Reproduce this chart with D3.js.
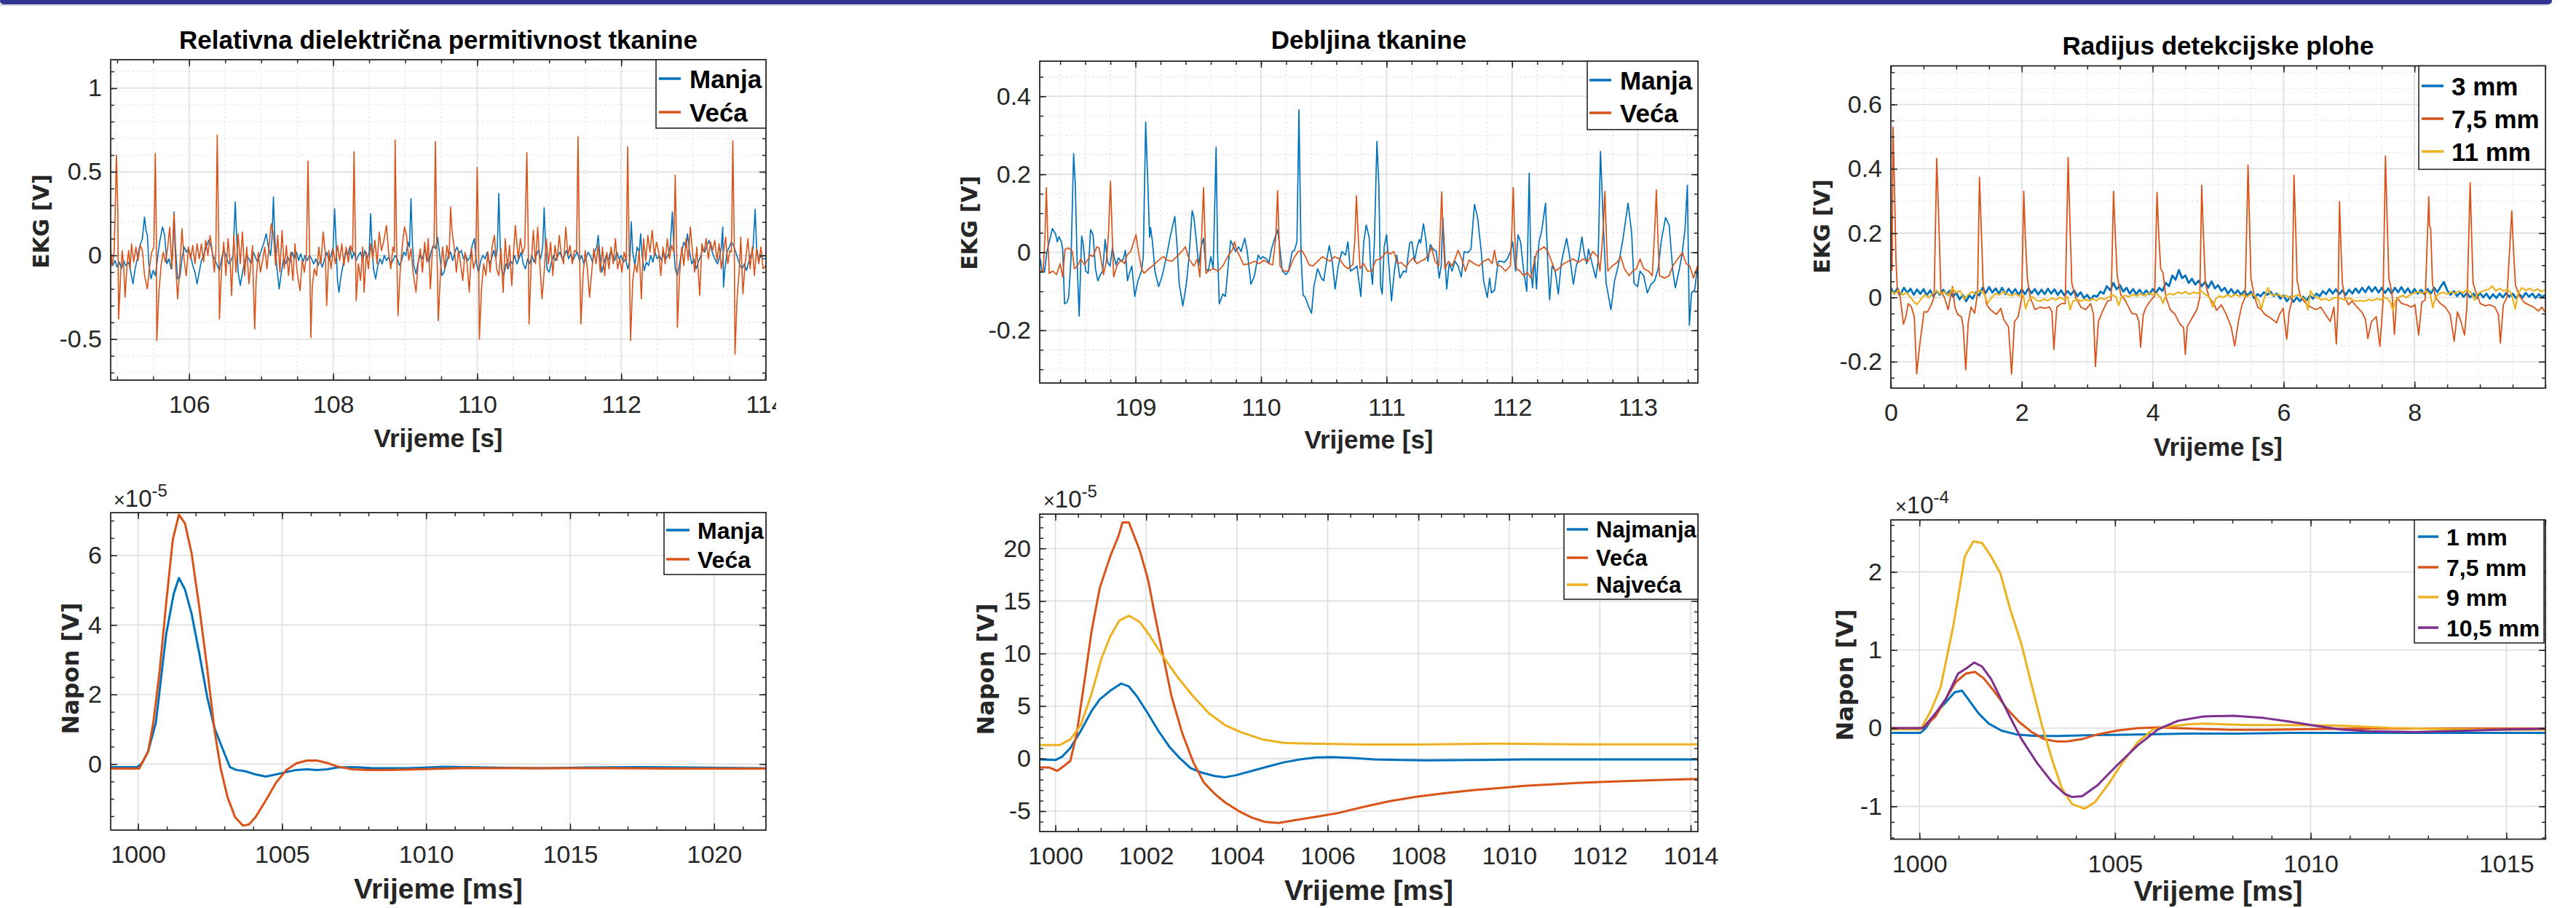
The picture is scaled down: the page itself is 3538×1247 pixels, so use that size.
<!DOCTYPE html>
<html>
<head>
<meta charset="utf-8">
<script src="https://cdn.jsdelivr.net/npm/d3@7"></script>
<style>
  body { margin: 0; background: #fff; }
  svg { display: block; }
</style>
</head>
<body>
<svg></svg>
<script>
// ---------- data ----------
// Relativna dielektricna permitivnost tkanine, EKG [V]
const permEkgManja = [[104.91,-0.02],[104.94,-0.06],[104.97,-0.03],[105.00,-0.07],[105.03,-0.04],[105.06,-0.08],[105.09,-0.03],[105.12,-0.06],[105.16,-0.04],[105.19,-0.10],[105.22,-0.17],[105.25,-0.08],[105.28,-0.02],[105.31,0.05],[105.35,0.10],[105.38,0.23],[105.40,0.15],[105.42,0.12],[105.44,-0.05],[105.47,-0.14],[105.50,-0.09],[105.53,-0.12],[105.56,-0.02],[105.59,0.08],[105.63,0.17],[105.66,0.12],[105.69,-0.05],[105.72,-0.02],[105.75,-0.08],[105.77,0.00],[105.79,0.26],[105.81,0.05],[105.84,-0.14],[105.87,-0.13],[105.90,-0.02],[105.93,0.05],[105.96,0.02],[105.99,0.04],[106.02,0.00],[106.05,-0.06],[106.08,-0.10],[106.11,-0.17],[106.14,-0.10],[106.17,-0.03],[106.20,0.00],[106.23,0.04],[106.27,0.09],[106.30,0.06],[106.33,0.00],[106.36,-0.03],[106.39,-0.06],[106.42,-0.09],[106.45,-0.02],[106.48,0.03],[106.51,0.00],[106.55,-0.05],[106.58,-0.03],[106.61,0.00],[106.64,0.32],[106.66,0.10],[106.68,-0.10],[106.71,-0.18],[106.74,-0.10],[106.77,-0.04],[106.80,0.00],[106.83,-0.02],[106.86,-0.05],[106.89,0.02],[106.92,-0.01],[106.95,-0.04],[106.98,0.00],[107.01,0.04],[107.04,0.08],[107.07,0.13],[107.10,0.05],[107.13,0.00],[107.15,0.10],[107.17,0.35],[107.19,0.10],[107.22,-0.08],[107.25,-0.20],[107.28,-0.10],[107.31,-0.02],[107.34,-0.05],[107.37,-0.01],[107.40,-0.04],[107.43,0.02],[107.46,-0.02],[107.49,0.02],[107.52,-0.03],[107.55,0.01],[107.58,-0.04],[107.61,0.00],[107.64,-0.03],[107.67,0.00],[107.70,-0.02],[107.73,-0.05],[107.76,-0.02],[107.79,-0.06],[107.82,-0.03],[107.85,-0.07],[107.88,-0.02],[107.91,0.02],[107.94,-0.03],[107.97,0.00],[108.00,0.05],[108.02,0.28],[108.04,0.08],[108.06,-0.15],[108.08,-0.22],[108.11,-0.12],[108.14,-0.05],[108.17,0.02],[108.20,0.00],[108.23,0.05],[108.26,-0.02],[108.29,0.02],[108.32,-0.03],[108.35,0.00],[108.38,0.02],[108.41,-0.03],[108.44,0.03],[108.47,-0.02],[108.50,0.02],[108.52,0.25],[108.54,0.05],[108.56,-0.08],[108.59,-0.14],[108.62,-0.06],[108.65,-0.02],[108.68,-0.05],[108.71,0.00],[108.74,-0.03],[108.77,-0.01],[108.80,-0.05],[108.83,-0.03],[108.86,0.00],[108.89,-0.02],[108.92,-0.06],[108.95,-0.03],[108.98,0.02],[109.01,0.00],[109.04,0.08],[109.06,0.05],[109.08,0.34],[109.10,0.08],[109.12,-0.06],[109.15,-0.11],[109.18,-0.04],[109.21,0.00],[109.24,-0.02],[109.27,0.03],[109.30,0.00],[109.33,-0.04],[109.36,0.02],[109.39,0.06],[109.42,0.04],[109.45,0.11],[109.48,0.00],[109.51,-0.12],[109.54,-0.10],[109.57,-0.05],[109.60,0.00],[109.63,0.02],[109.66,-0.03],[109.69,0.02],[109.72,0.05],[109.75,0.01],[109.78,0.03],[109.81,-0.02],[109.84,0.00],[109.87,-0.03],[109.90,-0.01],[109.93,0.06],[109.96,0.10],[109.99,-0.05],[110.02,-0.10],[110.05,-0.03],[110.08,0.00],[110.11,-0.02],[110.14,0.02],[110.17,-0.05],[110.20,-0.02],[110.23,0.03],[110.26,-0.02],[110.28,0.05],[110.30,0.37],[110.32,0.05],[110.34,-0.09],[110.37,-0.12],[110.40,-0.05],[110.43,-0.08],[110.46,-0.03],[110.49,-0.05],[110.52,0.00],[110.55,-0.05],[110.58,-0.02],[110.61,0.02],[110.64,-0.05],[110.67,-0.08],[110.70,-0.02],[110.73,-0.05],[110.76,0.00],[110.79,-0.04],[110.82,0.00],[110.85,0.03],[110.88,-0.02],[110.91,0.05],[110.93,0.285],[110.95,0.05],[110.97,-0.08],[111.00,-0.10],[111.03,-0.04],[111.06,0.00],[111.09,-0.03],[111.12,0.00],[111.15,0.02],[111.18,-0.02],[111.21,0.00],[111.24,0.03],[111.27,-0.02],[111.30,0.01],[111.33,-0.03],[111.36,0.00],[111.39,0.02],[111.42,-0.03],[111.45,0.00],[111.48,-0.05],[111.51,-0.02],[111.54,0.02],[111.57,0.00],[111.60,-0.04],[111.63,0.02],[111.66,0.05],[111.68,0.12],[111.70,0.02],[111.73,-0.10],[111.76,-0.05],[111.79,0.00],[111.82,-0.03],[111.85,0.02],[111.88,0.00],[111.91,-0.03],[111.94,0.02],[111.97,-0.02],[112.00,0.00],[112.03,-0.04],[112.06,-0.02],[112.09,-0.08],[112.12,-0.03],[112.14,0.20],[112.16,0.02],[112.19,-0.06],[112.22,0.05],[112.25,0.02],[112.27,0.13],[112.29,0.00],[112.32,-0.09],[112.35,-0.04],[112.38,-0.06],[112.41,0.00],[112.44,-0.04],[112.47,0.02],[112.50,-0.02],[112.53,0.00],[112.56,-0.03],[112.59,0.02],[112.62,-0.02],[112.65,0.00],[112.68,0.05],[112.71,0.26],[112.73,0.05],[112.75,-0.08],[112.78,-0.12],[112.81,-0.05],[112.84,0.02],[112.87,0.08],[112.90,0.05],[112.92,0.13],[112.95,0.02],[112.98,-0.05],[113.01,-0.02],[113.04,-0.08],[113.07,-0.04],[113.10,-0.01],[113.13,0.04],[113.16,0.02],[113.19,0.06],[113.22,0.09],[113.25,0.04],[113.28,0.00],[113.31,-0.03],[113.34,-0.05],[113.37,0.00],[113.39,0.05],[113.41,0.17],[113.42,-0.19],[113.44,-0.08],[113.47,0.02],[113.50,0.05],[113.53,0.08],[113.56,0.06],[113.59,0.02],[113.62,-0.02],[113.65,-0.06],[113.68,-0.08],[113.71,-0.05],[113.74,-0.09],[113.77,-0.04],[113.80,0.00],[113.83,0.04],[113.86,0.275],[113.88,0.05],[113.91,-0.03],[113.94,0.00],[113.97,-0.02],[114.01,-0.02]];
const permEkgVeca = [[104.91,0.05],[104.93,-0.06],[104.96,0.03],[104.99,0.60],[105.01,0.25],[105.02,-0.38],[105.05,-0.10],[105.07,0.03],[105.09,-0.06],[105.11,-0.25],[105.14,-0.04],[105.16,0.03],[105.18,-0.08],[105.20,0.07],[105.23,-0.04],[105.26,0.05],[105.29,-0.03],[105.32,0.06],[105.35,0.03],[105.38,-0.12],[105.42,-0.20],[105.45,-0.07],[105.48,0.02],[105.51,0.05],[105.53,0.61],[105.545,0.10],[105.55,-0.51],[105.58,-0.22],[105.61,-0.06],[105.64,0.02],[105.67,-0.04],[105.70,0.04],[105.73,0.17],[105.76,-0.08],[105.79,0.25],[105.81,-0.04],[105.84,-0.26],[105.87,-0.08],[105.90,0.16],[105.93,-0.03],[105.96,-0.12],[105.99,0.05],[106.02,-0.02],[106.05,0.06],[106.08,-0.05],[106.11,0.07],[106.14,-0.02],[106.17,0.07],[106.20,-0.04],[106.23,0.09],[106.26,0.00],[106.29,0.12],[106.32,0.03],[106.35,-0.10],[106.37,0.02],[106.39,0.72],[106.41,0.10],[106.42,-0.38],[106.45,-0.08],[106.48,0.08],[106.51,-0.12],[106.54,0.10],[106.57,-0.05],[106.59,-0.24],[106.62,0.12],[106.65,-0.10],[106.68,0.13],[106.71,-0.05],[106.74,0.14],[106.77,-0.12],[106.80,0.05],[106.83,-0.17],[106.86,-0.04],[106.88,0.06],[106.89,-0.15],[106.91,-0.44],[106.93,-0.15],[106.96,0.02],[106.99,-0.10],[107.02,-0.03],[107.05,0.05],[107.08,-0.08],[107.11,0.06],[107.14,0.19],[107.17,0.13],[107.20,-0.06],[107.23,0.12],[107.26,-0.10],[107.29,0.15],[107.32,-0.08],[107.35,0.06],[107.38,-0.12],[107.41,0.02],[107.44,-0.15],[107.47,0.07],[107.50,-0.10],[107.54,-0.21],[107.57,-0.03],[107.60,-0.10],[107.63,0.02],[107.65,0.565],[107.67,0.10],[107.69,-0.49],[107.71,-0.18],[107.74,-0.08],[107.77,-0.12],[107.80,0.05],[107.83,-0.05],[107.86,0.14],[107.89,0.02],[107.91,-0.30],[107.94,0.03],[107.97,-0.08],[108.00,0.04],[108.03,-0.05],[108.06,0.06],[108.09,-0.03],[108.12,0.07],[108.15,-0.06],[108.18,0.05],[108.21,-0.04],[108.24,0.06],[108.27,0.02],[108.29,0.62],[108.31,0.05],[108.32,-0.27],[108.35,-0.05],[108.38,-0.15],[108.41,0.05],[108.43,-0.22],[108.46,0.02],[108.49,-0.08],[108.52,0.07],[108.55,-0.02],[108.58,0.09],[108.61,-0.05],[108.64,0.14],[108.67,0.03],[108.70,0.08],[108.74,0.18],[108.77,0.02],[108.80,-0.08],[108.83,0.05],[108.85,0.02],[108.86,0.69],[108.88,0.10],[108.90,-0.36],[108.93,-0.10],[108.96,0.06],[108.99,0.17],[109.02,0.12],[109.05,-0.03],[109.08,0.04],[109.11,-0.10],[109.15,-0.22],[109.18,-0.05],[109.21,0.04],[109.24,-0.10],[109.27,0.08],[109.30,-0.04],[109.32,0.10],[109.35,-0.20],[109.38,0.05],[109.40,0.05],[109.42,0.68],[109.44,0.05],[109.46,-0.39],[109.49,-0.10],[109.52,0.05],[109.55,-0.08],[109.58,0.06],[109.61,-0.02],[109.63,0.29],[109.65,0.15],[109.68,0.05],[109.71,-0.10],[109.74,0.03],[109.77,-0.05],[109.80,-0.15],[109.83,0.02],[109.86,-0.05],[109.89,-0.22],[109.92,0.04],[109.95,-0.08],[109.98,-0.02],[110.00,0.526],[110.02,0.05],[110.03,-0.50],[110.06,-0.20],[110.09,-0.05],[110.12,-0.12],[110.15,0.02],[110.18,-0.10],[110.21,0.06],[110.24,0.12],[110.27,-0.08],[110.30,-0.12],[110.33,0.04],[110.36,-0.22],[110.39,0.10],[110.42,-0.08],[110.45,0.06],[110.48,-0.18],[110.51,0.05],[110.53,0.18],[110.57,-0.02],[110.60,0.10],[110.63,0.01],[110.66,0.05],[110.69,0.616],[110.71,0.05],[110.72,-0.41],[110.75,-0.05],[110.78,0.15],[110.81,-0.05],[110.84,0.17],[110.87,-0.05],[110.90,-0.26],[110.93,-0.10],[110.96,0.10],[110.99,-0.05],[111.02,0.08],[111.05,-0.12],[111.08,0.06],[111.11,-0.03],[111.14,0.12],[111.17,0.00],[111.20,-0.05],[111.23,0.17],[111.26,0.00],[111.29,0.06],[111.32,-0.05],[111.35,0.03],[111.38,0.02],[111.40,0.71],[111.42,0.05],[111.44,-0.41],[111.47,-0.12],[111.50,0.03],[111.53,-0.08],[111.56,-0.25],[111.59,-0.10],[111.62,0.04],[111.65,-0.05],[111.68,0.06],[111.71,-0.10],[111.74,0.05],[111.77,-0.12],[111.80,0.02],[111.83,-0.08],[111.86,0.05],[111.89,-0.05],[111.92,0.10],[111.95,-0.08],[111.98,-0.02],[112.01,-0.10],[112.04,0.02],[112.07,-0.03],[112.09,0.65],[112.11,0.05],[112.13,-0.51],[112.16,-0.15],[112.19,-0.05],[112.22,-0.10],[112.25,0.03],[112.28,-0.26],[112.31,0.10],[112.34,-0.03],[112.37,0.12],[112.40,0.02],[112.43,0.15],[112.46,0.00],[112.49,0.08],[112.52,0.02],[112.55,-0.12],[112.58,0.05],[112.61,-0.05],[112.64,0.10],[112.67,-0.02],[112.70,0.06],[112.73,0.02],[112.75,0.48],[112.77,0.03],[112.78,-0.43],[112.81,-0.12],[112.84,0.05],[112.87,-0.06],[112.90,0.10],[112.93,-0.03],[112.96,0.17],[112.99,0.02],[113.02,-0.10],[113.05,0.05],[113.09,-0.24],[113.12,0.07],[113.15,0.02],[113.18,0.10],[113.21,-0.02],[113.24,0.08],[113.27,0.03],[113.30,0.09],[113.33,-0.03],[113.36,0.07],[113.39,-0.08],[113.42,0.02],[113.45,0.11],[113.48,-0.05],[113.51,0.03],[113.53,0.02],[113.55,0.685],[113.57,0.05],[113.58,-0.59],[113.61,-0.25],[113.64,-0.08],[113.66,0.11],[113.69,-0.23],[113.72,-0.05],[113.76,0.10],[113.79,-0.08],[113.82,0.05],[113.85,-0.12],[113.88,0.04],[113.91,-0.05],[113.94,0.05],[113.97,-0.08],[114.01,-0.06]];

// Debljina tkanine, EKG [V]
const debEkgManja = [[108.242,-0.017],[108.255,-0.048],[108.275,-0.051],[108.294,0.002],[108.313,0.027],[108.338,0.061],[108.362,0.048],[108.377,0.027],[108.391,0.040],[108.410,0.027],[108.420,0.008],[108.435,-0.132],[108.455,-0.128],[108.468,-0.113],[108.487,-0.011],[108.507,0.253],[108.520,0.176],[108.536,-0.035],[108.551,-0.163],[108.571,0.042],[108.584,0.020],[108.603,-0.048],[108.623,-0.054],[108.642,0.058],[108.662,0.045],[108.681,-0.042],[108.700,-0.073],[108.720,-0.057],[108.739,-0.048],[108.758,0.033],[108.778,-0.026],[108.797,-0.035],[108.816,0.011],[108.830,-0.011],[108.845,-0.032],[108.865,-0.014],[108.884,-0.023],[108.903,-0.017],[108.919,0.005],[108.936,-0.073],[108.957,-0.048],[108.971,-0.035],[108.994,-0.113],[109.019,-0.073],[109.048,-0.048],[109.062,-0.011],[109.081,0.334],[109.101,0.151],[109.112,0.039],[109.120,0.064],[109.135,0.027],[109.155,-0.048],[109.184,-0.088],[109.213,-0.060],[109.251,-0.004],[109.280,0.045],[109.313,0.092],[109.329,0.027],[109.348,-0.079],[109.377,-0.138],[109.406,-0.079],[109.426,-0.011],[109.451,0.107],[109.464,0.092],[109.484,0.033],[109.503,-0.035],[109.522,0.014],[109.542,0.036],[109.561,-0.042],[109.580,-0.048],[109.600,-0.011],[109.619,-0.042],[109.642,0.269],[109.654,0.002],[109.667,-0.132],[109.696,-0.107],[109.716,-0.113],[109.745,-0.011],[109.758,0.030],[109.774,0.020],[109.797,0.002],[109.822,0.014],[109.841,0.002],[109.870,0.036],[109.890,0.002],[109.919,-0.082],[109.948,-0.060],[109.977,-0.007],[109.996,-0.017],[110.015,-0.011],[110.044,-0.017],[110.064,-0.026],[110.083,0.008],[110.112,0.039],[110.132,0.058],[110.151,0.008],[110.170,-0.048],[110.199,-0.057],[110.219,-0.048],[110.248,0.002],[110.267,0.005],[110.286,0.027],[110.302,0.365],[110.319,-0.011],[110.335,-0.110],[110.354,-0.116],[110.377,-0.138],[110.402,-0.156],[110.422,-0.085],[110.451,-0.042],[110.480,-0.066],[110.499,-0.073],[110.528,-0.011],[110.544,0.017],[110.567,-0.023],[110.590,-0.094],[110.615,-0.035],[110.644,0.002],[110.673,-0.007],[110.692,0.027],[110.712,-0.048],[110.741,-0.042],[110.764,-0.035],[110.795,-0.113],[110.818,0.027],[110.838,0.070],[110.861,0.039],[110.874,-0.042],[110.888,-0.082],[110.903,0.027],[110.923,0.284],[110.938,0.176],[110.952,-0.085],[110.965,-0.107],[110.981,0.014],[111.000,0.045],[111.019,-0.035],[111.039,-0.125],[111.062,-0.048],[111.081,-0.007],[111.106,-0.066],[111.135,-0.048],[111.155,-0.051],[111.184,0.024],[111.203,0.027],[111.222,-0.023],[111.242,0.011],[111.261,0.033],[111.271,0.024],[111.294,0.073],[111.313,0.033],[111.329,-0.023],[111.348,0.020],[111.371,0.008],[111.396,0.002],[111.419,-0.066],[111.435,-0.035],[111.448,0.089],[111.464,-0.011],[111.479,-0.094],[111.499,-0.029],[111.522,-0.048],[111.545,-0.023],[111.570,-0.035],[111.595,-0.063],[111.618,0.002],[111.647,-0.001],[111.672,0.008],[111.700,0.123],[111.725,0.089],[111.754,0.002],[111.773,-0.073],[111.802,-0.116],[111.821,-0.066],[111.835,-0.104],[111.860,-0.097],[111.889,-0.023],[111.918,-0.023],[111.937,-0.026],[111.962,-0.017],[111.986,0.002],[112.005,0.027],[112.028,-0.048],[112.047,0.045],[112.067,0.027],[112.092,-0.048],[112.117,-0.100],[112.136,0.203],[112.150,-0.048],[112.163,-0.091],[112.179,-0.011],[112.194,-0.094],[112.214,0.027],[112.237,0.058],[112.266,0.126],[112.285,-0.035],[112.299,-0.122],[112.318,-0.035],[112.343,-0.048],[112.368,-0.107],[112.391,-0.029],[112.415,0.008],[112.434,0.036],[112.459,-0.011],[112.488,-0.082],[112.511,-0.035],[112.530,-0.017],[112.556,0.039],[112.575,-0.004],[112.594,-0.029],[112.608,0.008],[112.633,-0.023],[112.666,-0.066],[112.685,-0.023],[112.704,0.259],[112.729,0.051],[112.749,-0.079],[112.787,-0.147],[112.816,-0.073],[112.845,-0.035],[112.884,0.036],[112.923,0.126],[112.952,0.051],[112.971,-0.079],[113.000,-0.088],[113.019,-0.048],[113.048,-0.060],[113.077,-0.104],[113.106,-0.082],[113.135,-0.073],[113.164,-0.042],[113.187,0.027],[113.222,0.089],[113.251,0.070],[113.280,-0.048],[113.300,-0.091],[113.329,-0.048],[113.354,-0.004],[113.377,0.058],[113.396,0.172],[113.412,-0.187],[113.429,-0.104],[113.454,-0.097],[113.477,-0.035]];
const debEkgVeca = [[108.242,-0.048],[108.265,-0.048],[108.280,0.05],[108.290,0.166],[108.300,0.05],[108.313,-0.054],[108.342,-0.048],[108.371,-0.057],[108.400,-0.029],[108.420,-0.063],[108.439,0.008],[108.468,0.011],[108.497,0.002],[108.513,-0.042],[108.536,-0.035],[108.565,-0.017],[108.594,-0.032],[108.623,-0.017],[108.642,-0.007],[108.662,-0.011],[108.691,0.014],[108.710,0.011],[108.725,-0.017],[108.745,-0.057],[108.768,-0.023],[108.785,0.05],[108.801,0.182],[108.814,0.05],[108.826,-0.063],[108.855,-0.032],[108.884,-0.020],[108.913,-0.029],[108.932,-0.007],[108.961,0.002],[108.986,0.027],[109.004,0.045],[109.023,0.002],[109.048,-0.042],[109.068,-0.054],[109.106,-0.042],[109.135,-0.035],[109.174,-0.023],[109.222,-0.011],[109.251,-0.020],[109.290,-0.023],[109.329,-0.011],[109.368,0.002],[109.397,0.014],[109.426,-0.017],[109.464,-0.035],[109.493,-0.017],[109.513,-0.063],[109.528,0.05],[109.542,0.166],[109.553,0.05],[109.561,-0.054],[109.580,-0.048],[109.619,-0.042],[109.658,-0.048],[109.696,-0.035],[109.735,-0.011],[109.774,0.008],[109.789,0.027],[109.803,0.008],[109.832,-0.011],[109.861,-0.032],[109.909,-0.029],[109.948,-0.023],[109.986,-0.029],[110.025,-0.020],[110.064,-0.029],[110.093,-0.032],[110.118,0.04],[110.132,0.158],[110.141,0.06],[110.151,-0.035],[110.180,-0.048],[110.219,-0.048],[110.257,-0.017],[110.296,0.002],[110.325,0.005],[110.354,-0.011],[110.383,-0.032],[110.412,-0.035],[110.451,-0.023],[110.489,-0.011],[110.518,-0.017],[110.547,-0.023],[110.586,-0.011],[110.625,-0.017],[110.664,-0.035],[110.693,-0.042],[110.731,-0.032],[110.747,0.03],[110.760,0.145],[110.776,0.03],[110.789,-0.042],[110.818,-0.029],[110.847,-0.048],[110.884,-0.048],[110.913,-0.020],[110.952,-0.017],[111.000,0.002],[111.029,-0.004],[111.058,0.002],[111.087,-0.029],[111.116,-0.026],[111.155,-0.038],[111.184,-0.023],[111.213,-0.014],[111.242,-0.029],[111.271,-0.023],[111.309,-0.017],[111.338,-0.004],[111.357,0.014],[111.386,-0.023],[111.415,-0.035],[111.427,0.05],[111.439,0.155],[111.450,0.05],[111.464,-0.042],[111.493,-0.023],[111.522,-0.035],[111.545,-0.017],[111.570,0.005],[111.599,-0.017],[111.628,-0.048],[111.657,-0.020],[111.696,-0.029],[111.734,-0.035],[111.773,-0.023],[111.812,-0.017],[111.841,-0.029],[111.860,0.005],[111.879,-0.032],[111.908,-0.035],[111.947,-0.048],[111.986,-0.035],[111.997,0.05],[112.009,0.166],[112.020,0.05],[112.034,-0.042],[112.063,-0.048],[112.092,-0.060],[112.121,-0.051],[112.150,-0.066],[112.169,-0.035],[112.198,0.002],[112.227,0.008],[112.256,0.014],[112.285,0.002],[112.314,-0.023],[112.343,-0.048],[112.372,-0.042],[112.411,-0.029],[112.449,-0.023],[112.488,-0.017],[112.527,-0.026],[112.565,-0.017],[112.604,-0.023],[112.643,0.002],[112.681,-0.011],[112.700,-0.048],[112.724,0.05],[112.739,0.156],[112.750,0.05],[112.762,-0.048],[112.797,-0.035],[112.836,-0.026],[112.865,-0.011],[112.894,-0.042],[112.932,-0.060],[112.961,-0.048],[112.990,-0.042],[113.019,-0.017],[113.048,-0.042],[113.087,-0.048],[113.116,-0.060],[113.135,0.05],[113.149,0.160],[113.160,0.05],[113.174,-0.060],[113.213,-0.066],[113.251,-0.060],[113.280,-0.035],[113.319,-0.017],[113.357,-0.001],[113.386,-0.029],[113.415,-0.035],[113.444,-0.066],[113.477,-0.035]];

// Radijus detekcijske plohe, EKG [V]
const radEkg3 = [[0.00,0.030],[0.05,0.012],[0.10,0.028],[0.15,0.010],[0.20,0.030],[0.25,0.014],[0.30,0.027],[0.35,0.008],[0.40,0.025],[0.45,0.011],[0.50,0.026],[0.55,0.006],[0.60,0.022],[0.65,0.004],[0.70,0.020],[0.75,0.008],[0.80,0.024],[0.85,0.010],[0.90,0.021],[0.95,0.002],[1.00,0.015],[1.05,-0.006],[1.10,0.008],[1.15,-0.012],[1.20,0.006],[1.25,-0.004],[1.30,0.016],[1.35,0.006],[1.40,0.030],[1.45,0.014],[1.50,0.032],[1.55,0.015],[1.60,0.028],[1.65,0.012],[1.70,0.030],[1.75,0.010],[1.80,0.027],[1.85,0.012],[1.90,0.026],[1.95,0.008],[2.00,0.025],[2.05,0.010],[2.10,0.028],[2.15,0.013],[2.20,0.026],[2.25,0.009],[2.30,0.024],[2.35,0.010],[2.40,0.027],[2.45,0.012],[2.50,0.025],[2.55,0.008],[2.60,0.022],[2.65,0.006],[2.70,0.020],[2.75,0.008],[2.80,0.022],[2.85,0.004],[2.90,0.016],[2.95,-0.002],[3.00,0.008],[3.05,-0.008],[3.10,0.006],[3.15,0.002],[3.20,0.018],[3.25,0.012],[3.30,0.035],[3.35,0.022],[3.40,0.045],[3.45,0.025],[3.50,0.038],[3.55,0.018],[3.60,0.030],[3.65,0.012],[3.70,0.026],[3.75,0.010],[3.80,0.024],[3.85,0.008],[3.90,0.022],[3.95,0.010],[4.00,0.026],[4.05,0.014],[4.10,0.030],[4.15,0.020],[4.20,0.045],[4.25,0.035],[4.30,0.068],[4.35,0.055],[4.40,0.085],[4.45,0.060],[4.50,0.068],[4.55,0.045],[4.60,0.058],[4.65,0.040],[4.70,0.052],[4.75,0.035],[4.80,0.048],[4.85,0.030],[4.90,0.050],[4.95,0.028],[5.00,0.038],[5.05,0.020],[5.10,0.030],[5.15,0.012],[5.20,0.026],[5.25,0.010],[5.30,0.022],[5.35,0.008],[5.40,0.020],[5.45,0.006],[5.50,0.018],[5.55,-0.002],[5.60,0.010],[5.65,0.004],[5.70,0.016],[5.75,0.008],[5.80,0.018],[5.85,0.004],[5.90,0.012],[5.95,-0.004],[6.00,0.006],[6.05,-0.012],[6.10,0.002],[6.15,-0.014],[6.20,0.000],[6.25,-0.012],[6.30,0.002],[6.35,-0.010],[6.40,0.006],[6.45,-0.004],[6.50,0.012],[6.55,0.004],[6.60,0.020],[6.65,0.010],[6.70,0.026],[6.75,0.012],[6.80,0.025],[6.85,0.010],[6.90,0.022],[6.95,0.008],[7.00,0.024],[7.05,0.012],[7.10,0.028],[7.15,0.014],[7.20,0.030],[7.25,0.016],[7.30,0.034],[7.35,0.018],[7.40,0.032],[7.45,0.015],[7.50,0.030],[7.55,0.014],[7.60,0.028],[7.65,0.012],[7.70,0.030],[7.75,0.016],[7.80,0.032],[7.85,0.014],[7.90,0.028],[7.95,0.010],[8.00,0.026],[8.05,0.012],[8.10,0.024],[8.15,0.010],[8.20,0.026],[8.25,0.012],[8.30,0.030],[8.35,0.016],[8.40,0.034],[8.45,0.048],[8.50,0.022],[8.55,0.008],[8.60,0.020],[8.65,0.004],[8.70,0.016],[8.75,0.002],[8.80,0.014],[8.85,0.000],[8.90,0.012],[8.95,-0.002],[9.00,0.014],[9.05,0.000],[9.10,0.012],[9.15,-0.004],[9.20,0.010],[9.25,-0.002],[9.30,0.012],[9.35,0.000],[9.40,0.014],[9.45,0.002],[9.50,0.012],[9.55,-0.002],[9.60,0.010],[9.65,0.000],[9.70,0.014],[9.75,0.002],[9.80,0.012],[9.85,-0.002],[9.90,0.010],[9.95,0.000],[9.99,0.008]];
const radEkg75 = [[0.018,0.083],[0.033,0.530],[0.055,0.347],[0.077,0.121],[0.100,0.019],[0.144,0.000],[0.192,-0.083],[0.229,-0.060],[0.266,-0.019],[0.314,-0.030],[0.358,-0.060],[0.395,-0.238],[0.439,-0.151],[0.506,-0.045],[0.561,-0.045],[0.616,-0.023],[0.661,0.000],[0.701,0.432],[0.727,0.272],[0.764,0.019],[0.819,0.000],[0.875,-0.038],[0.941,0.034],[0.978,-0.030],[1.022,-0.053],[1.077,-0.060],[1.103,-0.087],[1.144,-0.225],[1.181,-0.079],[1.225,-0.030],[1.280,-0.049],[1.325,0.015],[1.354,0.374],[1.384,0.196],[1.410,0.038],[1.465,-0.023],[1.520,-0.038],[1.613,-0.053],[1.679,-0.034],[1.723,-0.068],[1.797,-0.091],[1.845,-0.238],[1.889,-0.075],[1.945,-0.060],[2.000,0.000],[2.030,0.330],[2.055,0.181],[2.085,0.060],[2.129,0.000],[2.203,-0.038],[2.277,-0.030],[2.351,-0.034],[2.424,-0.030],[2.461,-0.045],[2.491,-0.162],[2.535,-0.030],[2.609,-0.019],[2.664,-0.019],[2.708,0.435],[2.734,0.242],[2.764,0.045],[2.823,0.000],[2.904,-0.030],[2.978,-0.038],[3.052,-0.019],[3.096,-0.053],[3.125,-0.215],[3.170,-0.075],[3.236,-0.042],[3.310,-0.011],[3.365,-0.008],[3.402,0.330],[3.428,0.196],[3.458,0.068],[3.513,0.008],[3.587,-0.011],[3.679,-0.049],[3.753,-0.053],[3.790,-0.075],[3.815,-0.155],[3.856,-0.053],[3.900,-0.030],[3.974,-0.008],[4.030,0.004],[4.066,0.327],[4.092,0.196],[4.122,0.091],[4.159,0.075],[4.203,0.000],[4.269,-0.038],[4.343,-0.053],[4.417,-0.083],[4.472,-0.094],[4.498,-0.177],[4.528,-0.091],[4.601,-0.064],[4.675,-0.038],[4.720,0.000],[4.749,0.349],[4.775,0.196],[4.804,0.045],[4.860,0.000],[4.934,-0.019],[4.976,-0.040],[5.050,-0.023],[5.124,-0.053],[5.198,-0.091],[5.253,-0.151],[5.309,-0.075],[5.364,-0.023],[5.412,0.000],[5.457,0.411],[5.479,0.234],[5.501,0.060],[5.549,0.008],[5.604,-0.030],[5.660,-0.038],[5.715,-0.053],[5.771,-0.060],[5.826,-0.068],[5.893,-0.079],[5.937,-0.053],[5.993,-0.034],[6.048,-0.130],[6.085,-0.045],[6.129,-0.011],[6.159,0.380],[6.185,0.211],[6.207,0.053],[6.251,0.008],[6.307,-0.011],[6.362,-0.023],[6.418,-0.030],[6.492,-0.038],[6.566,-0.030],[6.640,-0.053],[6.713,-0.075],[6.769,-0.030],[6.806,-0.145],[6.832,-0.023],[6.854,0.298],[6.876,0.158],[6.898,0.045],[6.935,0.000],[6.991,-0.023],[7.046,-0.011],[7.120,-0.030],[7.194,-0.045],[7.250,-0.068],[7.287,-0.128],[7.342,-0.075],[7.416,-0.060],[7.471,-0.152],[7.519,-0.015],[7.556,0.440],[7.582,0.242],[7.608,0.060],[7.656,0.015],[7.693,-0.115],[7.730,0.000],[7.804,-0.019],[7.878,-0.023],[7.952,-0.030],[8.007,-0.023],[8.063,-0.117],[8.111,-0.015],[8.163,-0.008],[8.218,0.313],[8.229,0.226],[8.248,0.211],[8.274,0.045],[8.322,0.000],[8.396,-0.019],[8.470,-0.030],[8.544,-0.053],[8.607,-0.136],[8.655,-0.045],[8.710,-0.075],[8.765,-0.117],[8.802,-0.023],[8.850,0.357],[8.872,0.196],[8.895,0.045],[8.950,0.008],[9.006,-0.019],[9.079,-0.026],[9.153,-0.023],[9.227,-0.030],[9.283,-0.053],[9.312,-0.142],[9.357,-0.023],[9.412,0.000],[9.486,0.269],[9.512,0.151],[9.542,0.038],[9.597,0.008],[9.671,-0.015],[9.745,-0.023],[9.819,-0.030],[9.893,-0.042],[9.948,-0.030],[9.989,-0.045]];
const radEkg11 = [[0.00,0.020],[0.06,0.012],[0.12,0.022],[0.18,0.008],[0.24,0.015],[0.30,0.000],[0.36,-0.015],[0.40,-0.022],[0.46,-0.005],[0.52,0.008],[0.58,0.000],[0.64,0.012],[0.70,0.020],[0.76,0.010],[0.82,0.018],[0.88,0.005],[0.94,0.028],[1.00,0.015],[1.06,0.020],[1.12,-0.005],[1.18,0.008],[1.24,0.018],[1.30,0.010],[1.36,0.022],[1.42,0.012],[1.48,-0.018],[1.54,0.000],[1.60,0.012],[1.66,0.008],[1.72,0.018],[1.78,0.010],[1.84,0.005],[1.90,0.012],[1.96,0.004],[2.02,0.008],[2.06,-0.035],[2.10,-0.010],[2.16,0.002],[2.22,-0.008],[2.28,-0.012],[2.34,-0.005],[2.40,-0.010],[2.46,-0.002],[2.52,-0.008],[2.58,0.000],[2.64,-0.006],[2.70,0.002],[2.74,-0.038],[2.78,-0.012],[2.84,-0.005],[2.90,-0.012],[2.96,-0.006],[3.02,-0.010],[3.08,-0.004],[3.14,-0.010],[3.20,-0.002],[3.26,-0.006],[3.32,0.000],[3.38,0.008],[3.44,0.002],[3.48,-0.025],[3.52,0.000],[3.58,0.006],[3.64,0.002],[3.70,0.010],[3.76,0.004],[3.82,0.012],[3.88,0.005],[3.94,0.014],[4.00,0.008],[4.06,0.012],[4.12,0.000],[4.16,-0.018],[4.20,0.005],[4.26,0.012],[4.32,0.008],[4.38,0.016],[4.44,0.012],[4.50,0.018],[4.56,0.010],[4.62,0.016],[4.68,0.012],[4.74,0.020],[4.80,0.010],[4.86,0.002],[4.92,-0.030],[4.96,-0.005],[5.02,0.005],[5.08,0.000],[5.14,0.008],[5.20,0.002],[5.26,0.010],[5.32,0.004],[5.38,0.008],[5.44,0.002],[5.50,0.010],[5.56,0.006],[5.62,-0.010],[5.66,-0.035],[5.70,-0.005],[5.76,0.030],[5.80,0.010],[5.86,0.006],[5.92,0.010],[5.98,0.002],[6.04,0.006],[6.10,-0.002],[6.16,0.004],[6.22,0.008],[6.28,0.000],[6.34,-0.010],[6.37,-0.038],[6.41,0.020],[6.46,0.004],[6.52,0.000],[6.58,-0.008],[6.64,-0.004],[6.70,-0.010],[6.76,-0.002],[6.82,0.000],[6.88,-0.004],[6.94,-0.008],[7.00,-0.002],[7.06,-0.008],[7.12,-0.012],[7.18,-0.010],[7.24,-0.012],[7.30,-0.006],[7.36,-0.010],[7.42,-0.004],[7.48,-0.008],[7.54,0.000],[7.60,-0.006],[7.64,-0.020],[7.67,-0.042],[7.71,-0.008],[7.76,0.000],[7.82,0.006],[7.88,0.000],[7.94,0.010],[8.00,0.014],[8.06,0.018],[8.12,0.012],[8.18,0.020],[8.24,0.010],[8.28,-0.032],[8.32,0.000],[8.38,0.012],[8.44,0.016],[8.50,0.010],[8.56,0.018],[8.62,0.012],[8.68,0.020],[8.74,0.014],[8.80,0.024],[8.86,0.016],[8.92,-0.008],[8.96,0.010],[9.02,0.018],[9.08,0.022],[9.14,0.026],[9.19,0.036],[9.24,0.020],[9.30,0.028],[9.36,0.020],[9.42,0.026],[9.48,0.012],[9.54,-0.036],[9.58,0.010],[9.64,0.030],[9.70,0.022],[9.76,0.028],[9.82,0.020],[9.88,0.026],[9.94,0.018],[9.99,0.024]];

// Napon [V] x1e-5 (permitivnost)
const permSigManja = [[999.06,-0.09],[999.96,-0.09],[1000.14,0.03],[1000.35,0.36],[1000.62,1.19],[1000.98,3.75],[1001.24,4.9],[1001.42,5.35],[1001.63,5.02],[1001.86,4.32],[1002.13,3.17],[1002.40,1.93],[1002.66,1.02],[1002.93,0.45],[1003.19,-0.09],[1003.41,-0.17],[1003.73,-0.21],[1004.08,-0.30],[1004.44,-0.36],[1004.79,-0.30],[1005.15,-0.23],[1005.50,-0.17],[1005.86,-0.15],[1006.21,-0.17],[1006.57,-0.15],[1006.92,-0.10],[1007.45,-0.09],[1008.16,-0.12],[1009.41,-0.12],[1010.65,-0.08],[1012.07,-0.10],[1013.84,-0.12],[1015.62,-0.10],[1017.39,-0.09],[1019.17,-0.10],[1021.83,-0.12]];
const permSigVeca = [[999.06,-0.13],[1000.04,-0.13],[1000.35,0.36],[1000.53,1.19],[1000.75,2.67],[1000.98,4.65],[1001.21,6.47],[1001.42,7.17],[1001.63,6.92],[1001.86,6.06],[1002.13,4.49],[1002.40,2.76],[1002.66,0.94],[1002.87,-0.13],[1003.11,-0.96],[1003.37,-1.53],[1003.64,-1.77],[1003.85,-1.74],[1004.08,-1.53],[1004.44,-1.04],[1004.79,-0.54],[1005.15,-0.17],[1005.50,0.02],[1005.86,0.10],[1006.21,0.10],[1006.57,0.03],[1006.92,-0.07],[1007.45,-0.15],[1007.99,-0.17],[1008.70,-0.17],[1009.76,-0.15],[1011.18,-0.12],[1012.95,-0.12],[1014.73,-0.12],[1016.50,-0.12],[1018.28,-0.13],[1020.05,-0.13],[1021.83,-0.13]];

// Napon [V] x1e-5 (debljina)
const debSigNajmanja = [[999.66,-0.08],[1000.0,-0.14],[1000.15,0.19],[1000.33,1.01],[1000.56,2.64],[1000.80,4.55],[1000.98,5.64],[1001.21,6.46],[1001.45,7.14],[1001.62,6.87],[1001.80,5.91],[1002.04,4.28],[1002.27,2.64],[1002.51,1.14],[1002.74,0.05],[1002.98,-0.90],[1003.21,-1.31],[1003.51,-1.66],[1003.74,-1.77],[1003.98,-1.58],[1004.33,-1.17],[1004.68,-0.76],[1005.04,-0.35],[1005.39,-0.08],[1005.74,0.11],[1006.09,0.14],[1006.56,0.05],[1007.04,-0.08],[1007.62,-0.14],[1008.21,-0.16],[1009.15,-0.14],[1010.33,-0.08],[1011.51,-0.08],[1012.68,-0.08],[1014.15,-0.08]];
const debSigVeca = [[999.66,-0.84],[999.86,-0.84],[1000.04,-1.17],[1000.21,-0.63],[1000.33,-0.22],[1000.47,2.37],[1000.62,6.73],[1000.80,12.18],[1000.98,16.27],[1001.21,19.26],[1001.39,21.17],[1001.48,22.48],[1001.62,22.48],[1001.86,19.81],[1002.04,17.08],[1002.21,13.27],[1002.39,9.46],[1002.56,5.91],[1002.80,2.37],[1003.04,-0.35],[1003.27,-2.26],[1003.51,-3.35],[1003.74,-4.17],[1004.04,-4.99],[1004.33,-5.61],[1004.62,-6.02],[1004.92,-6.13],[1005.27,-5.86],[1005.74,-5.53],[1006.21,-5.20],[1006.80,-4.58],[1007.39,-4.03],[1007.98,-3.62],[1008.56,-3.30],[1009.15,-3.02],[1009.74,-2.81],[1010.33,-2.59],[1010.92,-2.45],[1011.51,-2.32],[1012.09,-2.21],[1012.68,-2.13],[1013.27,-2.04],[1014.15,-1.93]];
const debSigNajveca = [[999.66,1.28],[1000.09,1.28],[1000.33,1.83],[1000.56,3.19],[1000.80,6.19],[1001.01,9.46],[1001.21,11.63],[1001.41,13.13],[1001.62,13.60],[1001.86,13.00],[1002.09,11.63],[1002.33,10.00],[1002.68,7.82],[1003.04,5.91],[1003.39,4.28],[1003.74,3.19],[1004.09,2.51],[1004.56,1.83],[1005.04,1.50],[1005.62,1.42],[1006.21,1.39],[1006.80,1.34],[1007.98,1.34],[1009.74,1.42],[1011.51,1.36],[1014.15,1.36]];

// Napon [V] x1e-4 (radijus)
const radSig1 = [[999.28,-0.06],[1000.03,-0.06],[1000.16,0.0],[1000.41,0.19],[1000.67,0.33],[1000.90,0.46],[1001.09,0.48],[1001.25,0.37],[1001.51,0.19],[1001.77,0.06],[1002.09,-0.03],[1002.48,-0.08],[1003.00,-0.10],[1003.58,-0.10],[1004.29,-0.09],[1005.58,-0.08],[1006.87,-0.07],[1008.17,-0.07],[1009.46,-0.06],[1010.75,-0.06],[1013.33,-0.06],[1015.98,-0.06]];
const radSig75 = [[999.28,0.0],[1000.09,0.0],[1000.41,0.15],[1000.67,0.37],[1000.93,0.59],[1001.19,0.70],[1001.42,0.72],[1001.64,0.64],[1001.90,0.48],[1002.22,0.26],[1002.55,0.08],[1002.87,-0.05],[1003.19,-0.14],[1003.51,-0.17],[1003.77,-0.17],[1004.16,-0.14],[1004.55,-0.08],[1005.06,-0.03],[1005.58,0.0],[1006.10,0.01],[1006.61,0.0],[1007.26,-0.01],[1007.91,-0.02],[1008.81,-0.02],[1010.10,-0.01],[1011.40,-0.004],[1013.33,-0.004],[1015.98,-0.004]];
const radSig9 = [[999.28,-0.015],[1000.03,-0.015],[1000.28,0.21],[1000.54,0.52],[1000.87,1.32],[1001.16,2.20],[1001.38,2.39],[1001.60,2.37],[1001.83,2.20],[1002.07,1.98],[1002.31,1.54],[1002.61,1.07],[1002.87,0.55],[1003.13,0.04],[1003.39,-0.40],[1003.64,-0.77],[1003.90,-0.97],[1004.22,-1.03],[1004.48,-0.95],[1004.81,-0.73],[1005.19,-0.44],[1005.58,-0.18],[1005.97,-0.015],[1006.36,0.02],[1006.87,0.05],[1007.26,0.06],[1007.78,0.05],[1008.42,0.04],[1009.46,0.04],[1010.75,0.033],[1012.04,0.004],[1013.33,-0.01],[1014.63,-0.02],[1015.98,-0.02]];
const radSig105 = [[999.28,0.0],[1000.09,0.0],[1000.41,0.19],[1000.67,0.37],[1000.99,0.70],[1001.21,0.77],[1001.40,0.84],[1001.60,0.79],[1001.83,0.63],[1002.09,0.37],[1002.35,0.11],[1002.61,-0.14],[1003.00,-0.44],[1003.39,-0.69],[1003.71,-0.84],[1003.90,-0.88],[1004.16,-0.87],[1004.55,-0.73],[1005.06,-0.47],[1005.58,-0.22],[1006.10,-0.015],[1006.61,0.095],[1007.26,0.15],[1008.04,0.16],[1008.81,0.13],[1009.46,0.084],[1010.10,0.033],[1010.75,-0.015],[1011.52,-0.04],[1012.69,-0.048],[1013.98,-0.033],[1014.88,-0.018],[1015.98,-0.007]];

// tick labels
const p1XTicks = [106, 108, 110, 112, 114];
const p1YTicks = [-0.5, 0, 0.5, 1];
const p2XTicks = [109, 110, 111, 112, 113];
const p2YTicks = [-0.2, 0, 0.2, 0.4];
const p3XTicks = [0, 2, 4, 6, 8];
const p3YTicks = [-0.2, 0, 0.2, 0.4, 0.6];
const p4XTicks = [1000, 1005, 1010, 1015, 1020];
const p4YTicks = [0, 2, 4, 6];
const p5XTicks = [1000, 1002, 1004, 1006, 1008, 1010, 1012, 1014];
const p5YTicks = [-5, 0, 5, 10, 15, 20];
const p6XTicks = [1000, 1005, 1010, 1015];
const p6YTicks = [-1, 0, 1, 2];

// legend entries
const legPerm = ['Manja', 'Veća'];
const legDeb = ['Najmanja', 'Veća', 'Najveća'];
const legRadTop = ['3 mm', '7,5 mm', '11 mm'];
const legRadBottom = ['1 mm', '7,5 mm', '9 mm', '10,5 mm'];

// ---------- drawing ----------
const [svgWidth, svgHeight] = [3538, 1247];
const svg = d3.select('svg')
  .attr('width', svgWidth)
  .attr('height', svgHeight);

const FONT = "'Liberation Sans', Arial, Helvetica, sans-serif";
const YFONT = "'DejaVu Sans', Verdana, sans-serif";
const INK = '#262626';
const C = ['#0072BD', '#D95319', '#EDB120', '#7E2F8E'];

// top banner
svg.append('rect').attr('x', 0).attr('y', -6).attr('width', 3505).attr('height', 12)
  .attr('rx', 5).attr('fill', '#2f3590');
svg.append('line').attr('x1', 0).attr('x2', 3500).attr('y1', 7).attr('y2', 7)
  .attr('stroke', '#c9cbe0').attr('stroke-width', 1.5);

const panels = [
  {
    id: 'p1', box: [152, 82, 1052, 522], xDomain: [104.91, 114.01], yDomain: [-0.745, 1.17],
    xTicks: p1XTicks, yTicks: p1YTicks, xMinor: 0.5, yMinor: 0.1, minorGrid: true, lw: [1.6, 1.6],
    title: 'Relativna dielektrična permitivnost tkanine', titleY: 67,
    xLabel: 'Vrijeme [s]', xLabelY: 614, xLabelSize: 35,
    yLabel: 'EKG [V]', yLabelX: 56, yLabelY: 304, yLabelSize: 30,
    clipW: 1066,
    series: [permEkgManja, permEkgVeca].map((v, i) => ({ values: v, color: C[i], name: legPerm[i] })),
    legend: { box: [901, 82, 1052, 176], rows: [108, 154], sample: [905, 935], textX: 947, size: 35 }
  },
  {
    id: 'p2', box: [1428, 84, 2332, 526], xDomain: [108.237, 113.48], yDomain: [-0.335, 0.49],
    xTicks: p2XTicks, yTicks: p2YTicks, xMinor: 0.2, yMinor: 0.05, minorGrid: true, lw: [1.7, 1.7],
    title: 'Debljina tkanine', titleY: 67,
    xLabel: 'Vrijeme [s]', xLabelY: 616, xLabelSize: 35,
    yLabel: 'EKG [V]', yLabelX: 1331, yLabelY: 306, yLabelSize: 30,
    series: [debEkgManja, debEkgVeca].map((v, i) => ({ values: v, color: C[i], name: legPerm[i] })),
    legend: { box: [2180, 84, 2332, 178], rows: [110, 155], sample: [2183, 2213], textX: 2225, size: 35 }
  },
  {
    id: 'p3', box: [2597, 90.5, 3496, 533], xDomain: [0, 10], yDomain: [-0.282, 0.72],
    xTicks: p3XTicks, yTicks: p3YTicks, xMinor: 0.5, yMinor: 0.05, minorGrid: true, lw: [2.8, 1.8, 2.2],
    title: 'Radijus detekcijske plohe', titleY: 75,
    xLabel: 'Vrijeme [s]', xLabelY: 626, xLabelSize: 35,
    yLabel: 'EKG [V]', yLabelX: 2502, yLabelY: 311, yLabelSize: 30,
    series: [radEkg3, radEkg75, radEkg11].map((v, i) => ({ values: v, color: C[i], name: legRadTop[i] })),
    legend: { box: [3322, 90.5, 3496, 232.5], rows: [118, 163, 208], sample: [3326, 3356], textX: 3367, size: 35 }
  },
  {
    id: 'p4', box: [152, 704, 1052, 1140], xDomain: [999.05, 1021.8], yDomain: [-1.9, 7.23],
    xTicks: p4XTicks, yTicks: p4YTicks, xMinor: 1, yMinor: 0.5, minorGrid: false, lw: [3, 3],
    exponent: '-5', expX: 156, expY: 696,
    xLabel: 'Vrijeme [ms]', xLabelY: 1234, xLabelSize: 39,
    yLabel: 'Napon [V]', yLabelX: 96, yLabelY: 918, yLabelSize: 32,
    series: [permSigManja, permSigVeca].map((v, i) => ({ values: v, color: C[i], name: legPerm[i] })),
    legend: { box: [912, 704, 1052, 789], rows: [728, 768], sample: [915, 947], textX: 958, size: 32 }
  },
  {
    id: 'p5', box: [1428, 706, 2332, 1142], xDomain: [999.655, 1014.16], yDomain: [-6.94, 23.27],
    xTicks: p5XTicks, yTicks: p5YTicks, xMinor: 0.5, yMinor: 1, minorGrid: false, lw: [3, 3, 3],
    exponent: '-5', expX: 1433, expY: 697,
    xLabel: 'Vrijeme [ms]', xLabelY: 1236, xLabelSize: 39,
    yLabel: 'Napon [V]', yLabelX: 1353, yLabelY: 919, yLabelSize: 32,
    series: [debSigNajmanja, debSigVeca, debSigNajveca].map((v, i) => ({ values: v, color: C[i], name: legDeb[i] })),
    legend: { box: [2148, 706, 2332, 823], rows: [727, 766, 803], sample: [2152, 2181], textX: 2192, size: 31 }
  },
  {
    id: 'p6', box: [2597, 714, 3496, 1152.5], xDomain: [999.27, 1016.0], yDomain: [-1.42, 2.665],
    xTicks: p6XTicks, yTicks: p6YTicks, xMinor: 1, yMinor: 0.2, minorGrid: false, lw: [3, 3, 3, 3],
    exponent: '-4', expX: 2603, expY: 705,
    xLabel: 'Vrijeme [ms]', xLabelY: 1237, xLabelSize: 39,
    yLabel: 'Napon [V]', yLabelX: 2533, yLabelY: 927, yLabelSize: 32,
    series: [radSig1, radSig75, radSig9, radSig105].map((v, i) => ({ values: v, color: C[i], name: legRadBottom[i] })),
    legend: { box: [3316, 714, 3494, 883], rows: [737, 779, 820, 862], sample: [3321, 3349], textX: 3360, size: 32 }
  }
];

const minorRange = (dom, step) => d3.range(Math.ceil(dom[0] / step - 1e-9), Math.floor(dom[1] / step + 1e-9) + 1)
  .map(k => +(k * step).toFixed(6));

const styleAxis = (sel, size) => {
  sel.select('.domain').remove();
  sel.selectAll('line').attr('stroke', INK).attr('stroke-width', 1.5);
  sel.attr('font-family', FONT).attr('font-size', size);
  sel.selectAll('text').attr('fill', INK);
};

const drawPanel = (p) => {
  const [bx0, by0, bx1, by1] = p.box;
  const x = d3.scaleLinear().domain(p.xDomain).range([bx0, bx1]);
  const y = d3.scaleLinear().domain(p.yDomain).range([by1, by0]);
  const root = svg.append('g');
  if (p.clipW) {
    svg.append('clipPath').attr('id', `outer-${p.id}`)
      .append('rect').attr('x', 0).attr('y', 0).attr('width', p.clipW).attr('height', svgHeight);
    root.attr('clip-path', `url(#outer-${p.id})`);
  }
  svg.append('clipPath').attr('id', `clip-${p.id}`)
    .append('rect').attr('x', bx0).attr('y', by0).attr('width', bx1 - bx0).attr('height', by1 - by0);

  const xMinor = minorRange(p.xDomain, p.xMinor);
  const yMinor = minorRange(p.yDomain, p.yMinor);

  // grid
  const grid = root.append('g');
  if (p.minorGrid) {
    grid.selectAll('line.mx').data(xMinor).join('line').attr('class', 'mx')
      .attr('x1', d => x(d)).attr('x2', d => x(d)).attr('y1', by0).attr('y2', by1)
      .attr('stroke', '#d9d9d9').attr('stroke-width', 1).attr('stroke-dasharray', '2,4');
    grid.selectAll('line.my').data(yMinor).join('line').attr('class', 'my')
      .attr('y1', d => y(d)).attr('y2', d => y(d)).attr('x1', bx0).attr('x2', bx1)
      .attr('stroke', '#d9d9d9').attr('stroke-width', 1).attr('stroke-dasharray', '2,4');
  }
  grid.selectAll('line.gx').data(p.xTicks.filter(d => x(d) > bx0 + 1 && x(d) < bx1 - 1)).join('line').attr('class', 'gx')
    .attr('x1', d => x(d)).attr('x2', d => x(d)).attr('y1', by0).attr('y2', by1)
    .attr('stroke', '#dedede').attr('stroke-width', 1.6);
  grid.selectAll('line.gy').data(p.yTicks).join('line').attr('class', 'gy')
    .attr('y1', d => y(d)).attr('y2', d => y(d)).attr('x1', bx0).attr('x2', bx1)
    .attr('stroke', '#dedede').attr('stroke-width', 1.6);

  // series
  const line = d3.line().x(d => x(d[0])).y(d => y(d[1]));
  root.append('g').attr('clip-path', `url(#clip-${p.id})`)
    .selectAll('path').data(p.series).join('path')
    .attr('d', s => line(s.values))
    .attr('fill', 'none')
    .attr('stroke', s => s.color)
    .attr('stroke-width', (s, i) => p.lw[i])
    .attr('stroke-linejoin', 'round');

  // axes with inward ticks on all four sides
  root.append('g').attr('transform', `translate(0,${by1})`)
    .call(d3.axisBottom(x).tickValues(p.xTicks).tickSizeInner(-9).tickSizeOuter(0).tickPadding(21).tickFormat(d => String(d)))
    .call(styleAxis, 34);
  root.append('g').attr('transform', `translate(${bx0},0)`)
    .call(d3.axisLeft(y).tickValues(p.yTicks).tickSizeInner(-9).tickSizeOuter(0).tickPadding(12).tickFormat(d => String(d)))
    .call(styleAxis, 34);
  root.append('g').attr('transform', `translate(0,${by0})`)
    .call(d3.axisTop(x).tickValues(p.xTicks).tickSizeInner(-9).tickSizeOuter(0).tickFormat(''))
    .call(styleAxis, 34);
  root.append('g').attr('transform', `translate(${bx1},0)`)
    .call(d3.axisRight(y).tickValues(p.yTicks).tickSizeInner(-9).tickSizeOuter(0).tickFormat(''))
    .call(styleAxis, 34);
  [[d3.axisBottom(x), by1, 'x'], [d3.axisTop(x), by0, 'x'], [d3.axisLeft(y), bx0, 'y'], [d3.axisRight(y), bx1, 'y']]
    .forEach(([ax, pos, dir]) => {
      root.append('g')
        .attr('transform', dir === 'x' ? `translate(0,${pos})` : `translate(${pos},0)`)
        .call(ax.tickValues(dir === 'x' ? xMinor : yMinor).tickSizeInner(-5).tickSizeOuter(0).tickFormat(''))
        .call(styleAxis, 34);
    });

  root.append('rect')
    .attr('x', bx0).attr('y', by0).attr('width', bx1 - bx0).attr('height', by1 - by0)
    .attr('fill', 'none').attr('stroke', INK).attr('stroke-width', 1.8);

  // legend
  const L = p.legend;
  const lg = root.append('g');
  lg.append('rect')
    .attr('x', L.box[0]).attr('y', L.box[1]).attr('width', L.box[2] - L.box[0]).attr('height', L.box[3] - L.box[1])
    .attr('fill', '#fff').attr('stroke', INK).attr('stroke-width', 1.6);
  const items = lg.selectAll('g.item').data(p.series).join('g').attr('class', 'item');
  items.append('line')
    .attr('x1', L.sample[0]).attr('x2', L.sample[1])
    .attr('y1', (d, i) => L.rows[i]).attr('y2', (d, i) => L.rows[i])
    .attr('stroke', d => d.color).attr('stroke-width', 3.5);
  items.append('text')
    .attr('x', L.textX).attr('y', (d, i) => L.rows[i]).attr('dy', '0.36em')
    .attr('font-family', FONT).attr('font-weight', 'bold').attr('font-size', L.size)
    .attr('fill', '#000')
    .text(d => d.name);

  // labels
  const cx = (bx0 + bx1) / 2;
  if (p.title) {
    root.append('text').attr('x', cx).attr('y', p.titleY)
      .attr('text-anchor', 'middle').attr('font-family', FONT).attr('font-weight', 'bold')
      .attr('font-size', 35).attr('fill', '#000').text(p.title);
  }
  root.append('text').attr('x', cx).attr('y', p.xLabelY)
    .attr('text-anchor', 'middle').attr('font-family', FONT).attr('font-weight', 'bold')
    .attr('font-size', p.xLabelSize).attr('fill', INK).text(p.xLabel);
  root.append('text')
    .attr('transform', `translate(${p.yLabelX},${p.yLabelY}) rotate(-90)`)
    .attr('text-anchor', 'middle').attr('dy', '0.36em')
    .attr('font-family', YFONT).attr('font-weight', 'bold')
    .attr('font-size', p.yLabelSize).attr('fill', INK).text(p.yLabel);
  if (p.exponent) {
    const t = root.append('text').attr('x', p.expX).attr('y', p.expY)
      .attr('font-family', FONT).attr('font-size', 33).attr('fill', INK);
    t.append('tspan').attr('font-size', 27).text('×');
    t.append('tspan').text('10');
    t.append('tspan').attr('font-size', 24).attr('dy', -14).text(p.exponent);
  }
};

panels.forEach(drawPanel);
</script>
</body>
</html>
